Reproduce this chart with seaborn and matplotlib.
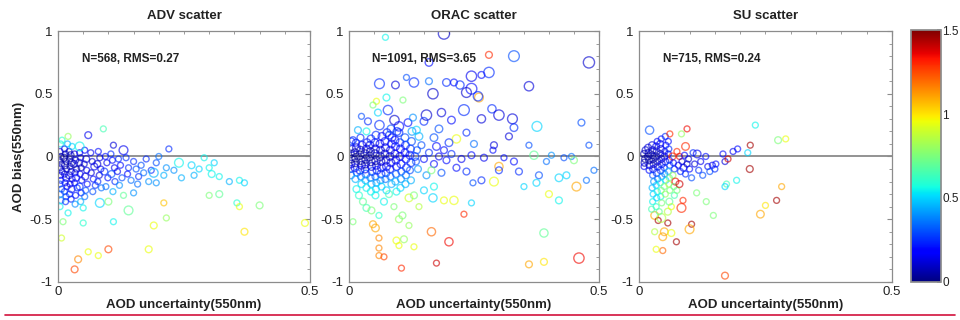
import numpy as np
import pandas as pd
import matplotlib
matplotlib.use("Agg")
import matplotlib.pyplot as plt
import seaborn as sns
from matplotlib.ticker import MultipleLocator
from matplotlib.colors import Normalize
from matplotlib.cm import ScalarMappable
from matplotlib.lines import Line2D

# ---------------- data ----------------
titles = ["ADV scatter", "ORAC scatter", "SU scatter"]
stats_text = ["N=568, RMS=0.27", "N=1091, RMS=3.65", "N=715, RMS=0.24"]
x_label = "AOD uncertainty(550nm)"
y_label = "AOD bias(550nm)"
cbar_ticks = [0, 0.5, 1, 1.5]
cbar_labels = ["0", "0.5", "1", "1.5"]
x_ticks = [0, 0.5]
x_tick_labels = ["0", "0.5"]
y_ticks = [-1, -0.5, 0, 0.5, 1]
y_tick_labels = ["-1", "-0.5", "0", "0.5", "1"]

# rows: (uncertainty, bias, colour value, marker size)
adv_points = [
    (0.004, 0.04, 0.10, 18), (0.006, 0.00, 0.05, 18), (0.003, -0.03, 0.05, 18), (0.007, -0.06, 0.08, 18),
    (0.004, -0.09, 0.12, 18), (0.008, -0.12, 0.10, 18), (0.005, -0.15, 0.18, 18), (0.006, -0.19, 0.22, 18),
    (0.004, -0.22, 0.30, 18), (0.007, -0.26, 0.28, 18), (0.005, -0.30, 0.38, 18), (0.006, -0.35, 0.40, 18),
    (0.004, -0.40, 0.55, 18), (0.005, 0.10, 0.55, 18), (0.008, 0.13, 0.60, 18),
    (0.013, 0.06, 0.15, 18), (0.015, 0.02, 0.05, 18), (0.012, -0.01, 0.06, 24), (0.016, -0.04, 0.04, 18),
    (0.014, -0.07, 0.08, 24), (0.017, -0.10, 0.06, 18), (0.013, -0.14, 0.12, 18), (0.016, -0.17, 0.15, 24),
    (0.014, -0.21, 0.20, 18), (0.018, -0.24, 0.15, 18), (0.013, -0.28, 0.25, 18), (0.016, -0.32, 0.30, 18),
    (0.015, -0.36, 0.25, 18), (0.019, 0.10, 0.45, 18),
    (0.022, 0.04, 0.10, 18), (0.025, 0.01, 0.06, 24), (0.023, -0.02, 0.04, 18), (0.027, -0.05, 0.10, 24),
    (0.024, -0.08, 0.05, 18), (0.026, -0.12, 0.12, 18), (0.022, -0.15, 0.10, 24), (0.028, -0.18, 0.15, 18),
    (0.024, -0.22, 0.12, 18), (0.027, -0.26, 0.20, 24), (0.023, -0.30, 0.25, 18), (0.026, -0.34, 0.22, 18),
    (0.028, 0.08, 0.50, 18),
    (0.033, 0.02, 0.12, 18), (0.035, -0.03, 0.08, 18), (0.032, -0.06, 0.10, 24), (0.037, -0.10, 0.06, 18),
    (0.034, -0.13, 0.14, 18), (0.036, -0.17, 0.20, 24), (0.033, -0.21, 0.16, 18), (0.038, -0.25, 0.25, 18),
    (0.035, -0.31, 0.22, 18), (0.034, -0.38, 0.40, 18),
    (0.043, 0.03, 0.15, 18), (0.045, -0.01, 0.10, 18), (0.042, -0.05, 0.12, 24), (0.046, -0.09, 0.06, 18),
    (0.044, -0.14, 0.15, 18), (0.047, -0.19, 0.20, 18), (0.043, -0.24, 0.25, 24), (0.046, -0.29, 0.22, 18),
    (0.045, -0.36, 0.45, 18),
    (0.053, 0.05, 0.20, 18), (0.056, -0.02, 0.12, 24), (0.052, -0.06, 0.10, 18), (0.057, -0.11, 0.15, 18),
    (0.054, -0.16, 0.12, 24), (0.058, -0.22, 0.20, 18), (0.055, -0.27, 0.30, 18), (0.053, -0.32, 0.35, 18),
    (0.060, 0.17, 0.15, 24), (0.043, 0.08, 0.55, 40),
    (0.065, 0.03, 0.15, 18), (0.068, -0.04, 0.10, 18), (0.072, -0.08, 0.15, 24), (0.066, -0.13, 0.12, 18),
    (0.070, -0.18, 0.20, 18), (0.074, -0.23, 0.25, 18), (0.069, -0.28, 0.30, 18),
    (0.080, 0.04, 0.20, 18), (0.083, -0.01, 0.12, 18), (0.078, -0.06, 0.10, 24), (0.085, -0.10, 0.15, 18),
    (0.082, -0.15, 0.12, 18), (0.079, -0.20, 0.25, 18), (0.086, -0.25, 0.35, 18), (0.083, -0.37, 0.50, 40),
    (0.090, 0.22, 0.65, 18), (0.094, 0.00, 0.20, 18), (0.097, -0.05, 0.15, 18), (0.092, -0.12, 0.25, 24),
    (0.099, -0.17, 0.20, 18), (0.095, -0.24, 0.35, 18), (0.100, -0.36, 0.75, 24),
    (0.105, 0.02, 0.25, 18), (0.110, 0.09, 0.12, 18), (0.108, -0.03, 0.20, 18), (0.112, -0.09, 0.15, 18),
    (0.106, -0.14, 0.30, 24), (0.113, -0.20, 0.25, 18), (0.109, -0.28, 0.45, 18),
    (0.120, -0.02, 0.25, 18), (0.124, -0.07, 0.20, 18), (0.118, -0.12, 0.15, 18), (0.127, -0.17, 0.30, 18),
    (0.122, -0.23, 0.40, 18), (0.130, -0.31, 0.70, 18),
    (0.130, 0.05, 0.15, 40), (0.135, -0.01, 0.25, 18), (0.140, -0.09, 0.25, 18), (0.138, -0.14, 0.20, 18),
    (0.145, -0.19, 0.35, 18), (0.140, -0.43, 0.70, 40),
    (0.150, -0.04, 0.25, 18), (0.155, -0.10, 0.30, 18), (0.160, -0.16, 0.25, 18), (0.158, -0.22, 0.35, 18),
    (0.150, -0.29, 0.40, 18),
    (0.170, -0.13, 0.35, 18), (0.165, -0.07, 0.30, 18), (0.175, -0.02, 0.25, 18), (0.180, -0.20, 0.40, 18),
    (0.185, -0.11, 0.25, 18),
    (0.190, -0.13, 0.45, 40), (0.195, -0.05, 0.30, 18), (0.200, 0.00, 0.35, 18), (0.195, -0.21, 0.40, 18),
    (0.210, -0.15, 0.45, 18), (0.215, -0.09, 0.40, 18), (0.220, 0.06, 0.25, 18), (0.230, -0.11, 0.40, 18),
    (0.240, -0.05, 0.55, 40), (0.245, -0.17, 0.45, 18),
    (0.265, -0.07, 0.50, 24), (0.270, -0.15, 0.45, 18), (0.280, -0.10, 0.50, 18), (0.290, -0.01, 0.55, 18),
    (0.300, -0.09, 0.55, 18), (0.305, -0.14, 0.55, 24), (0.310, -0.05, 0.50, 18), (0.320, -0.16, 0.55, 18),
    (0.340, -0.20, 0.45, 18), (0.360, -0.19, 0.55, 18), (0.370, -0.21, 0.50, 18),
    (0.110, -0.52, 0.55, 18), (0.050, -0.41, 0.55, 18), (0.050, -0.53, 0.60, 18), (0.010, -0.52, 0.75, 18),
    (0.007, -0.65, 0.90, 18), (0.300, -0.31, 0.75, 18), (0.320, -0.30, 0.70, 24), (0.355, -0.37, 0.60, 18),
    (0.400, -0.39, 0.75, 24), (0.360, -0.40, 0.95, 18), (0.370, -0.60, 1.00, 24), (0.490, -0.53, 0.95, 24),
    (0.210, -0.37, 1.05, 18), (0.190, -0.55, 0.95, 24), (0.215, -0.49, 0.80, 18), (0.180, -0.74, 0.95, 24),
    (0.100, -0.74, 1.25, 24), (0.060, -0.76, 0.95, 18), (0.080, -0.79, 0.95, 18), (0.040, -0.82, 1.15, 24),
    (0.033, -0.90, 1.25, 24), (0.020, 0.16, 0.80, 18), (0.020, -0.45, 0.55, 18),
]

orac_points = [
    (0.003, 0.02, 0.05, 30), (0.005, -0.02, 0.03, 30), (0.004, -0.06, 0.10, 30), (0.006, 0.06, 0.15, 24),
    (0.003, -0.10, 0.20, 24), (0.005, 0.12, 0.25, 24), (0.004, -0.15, 0.35, 24),
    (0.012, 0.03, 0.03, 30), (0.014, -0.01, 0.02, 35), (0.013, -0.05, 0.05, 30), (0.015, 0.07, 0.10, 30),
    (0.012, -0.09, 0.15, 30), (0.016, -0.13, 0.30, 24), (0.014, 0.11, 0.20, 24), (0.013, -0.18, 0.45, 24),
    (0.022, 0.01, 0.02, 35), (0.024, -0.03, 0.04, 35), (0.023, 0.05, 0.08, 30), (0.025, -0.07, 0.06, 30),
    (0.022, -0.11, 0.20, 30), (0.026, 0.09, 0.15, 30), (0.024, -0.16, 0.35, 24), (0.023, 0.15, 0.25, 24),
    (0.025, -0.22, 0.50, 24),
    (0.032, 0.02, 0.03, 35), (0.034, -0.02, 0.05, 35), (0.033, -0.06, 0.08, 30), (0.035, 0.06, 0.10, 30),
    (0.032, -0.10, 0.15, 30), (0.036, 0.11, 0.20, 30), (0.034, -0.14, 0.30, 30), (0.033, -0.19, 0.45, 24),
    (0.035, -0.25, 0.55, 24),
    (0.042, 0.00, 0.03, 35), (0.044, -0.04, 0.06, 35), (0.043, 0.04, 0.08, 30), (0.045, -0.08, 0.10, 30),
    (0.042, 0.09, 0.12, 30), (0.046, -0.12, 0.25, 30), (0.044, 0.14, 0.25, 30), (0.043, -0.17, 0.35, 24),
    (0.045, -0.22, 0.45, 24), (0.044, -0.28, 0.55, 24),
    (0.052, 0.02, 0.05, 35), (0.054, -0.03, 0.04, 35), (0.053, 0.06, 0.10, 30), (0.055, -0.07, 0.12, 30),
    (0.052, 0.11, 0.18, 30), (0.056, -0.11, 0.20, 30), (0.054, 0.17, 0.25, 30), (0.053, -0.16, 0.30, 24),
    (0.055, -0.21, 0.40, 24), (0.054, -0.26, 0.50, 24), (0.053, -0.31, 0.55, 24),
    (0.062, 0.00, 0.06, 35), (0.064, -0.04, 0.08, 30), (0.063, 0.05, 0.12, 30), (0.065, -0.09, 0.15, 30),
    (0.062, 0.10, 0.15, 30), (0.066, 0.16, 0.20, 30), (0.064, -0.14, 0.25, 30), (0.063, -0.19, 0.40, 24),
    (0.065, -0.24, 0.50, 24), (0.061, 0.25, 0.25, 45),
    (0.072, 0.02, 0.08, 30), (0.074, -0.03, 0.10, 30), (0.073, 0.07, 0.12, 30), (0.075, -0.08, 0.15, 30),
    (0.072, 0.12, 0.18, 30), (0.076, 0.19, 0.20, 30), (0.074, -0.13, 0.25, 30), (0.073, -0.18, 0.35, 24),
    (0.075, -0.27, 0.50, 24), (0.078, 0.37, 0.25, 45),
    (0.082, 0.00, 0.10, 30), (0.084, -0.05, 0.12, 30), (0.083, 0.05, 0.15, 30), (0.085, 0.10, 0.20, 30),
    (0.082, -0.10, 0.20, 30), (0.086, 0.15, 0.15, 30), (0.084, 0.22, 0.30, 30), (0.083, -0.16, 0.35, 24),
    (0.085, -0.22, 0.45, 24), (0.081, 0.17, 0.25, 30),
    (0.092, 0.02, 0.12, 30), (0.094, -0.03, 0.15, 30), (0.093, 0.08, 0.18, 30), (0.091, 0.29, 0.10, 45),
    (0.095, -0.08, 0.20, 30), (0.092, 0.13, 0.20, 30), (0.096, 0.20, 0.25, 30), (0.094, -0.14, 0.30, 24),
    (0.093, -0.20, 0.45, 24), (0.095, -0.28, 0.55, 24),
    (0.100, 0.24, 0.20, 45), (0.100, 0.19, 0.25, 30), (0.102, 0.00, 0.15, 30), (0.104, -0.06, 0.20, 30),
    (0.103, 0.06, 0.18, 30), (0.105, -0.12, 0.30, 24), (0.102, 0.11, 0.25, 30), (0.104, -0.18, 0.40, 24),
    (0.103, -0.25, 0.50, 24),
    (0.112, 0.03, 0.18, 30), (0.114, -0.02, 0.20, 30), (0.113, 0.09, 0.22, 30), (0.115, -0.09, 0.25, 30),
    (0.118, 0.27, 0.20, 30), (0.112, 0.15, 0.30, 30), (0.114, -0.15, 0.35, 24), (0.113, -0.22, 0.45, 24),
    (0.115, 0.63, 0.30, 18),
    (0.122, 0.01, 0.20, 30), (0.124, -0.05, 0.25, 30), (0.123, 0.06, 0.25, 30), (0.125, 0.12, 0.30, 30),
    (0.122, -0.11, 0.30, 24), (0.126, 0.20, 0.40, 30), (0.124, -0.19, 0.45, 24), (0.128, 0.31, 0.40, 24),
    (0.135, 0.21, 0.50, 30), (0.140, 0.16, 0.45, 30), (0.132, 0.00, 0.25, 30), (0.134, -0.04, 0.30, 24),
    (0.136, 0.05, 0.30, 24), (0.138, -0.10, 0.40, 24),
    (0.145, 0.09, 0.30, 24), (0.155, -0.15, 0.40, 24), (0.175, 0.08, 0.20, 30), (0.185, -0.13, 0.30, 24),
    (0.008, 0.13, 0.25, 24), (0.025, 0.32, 0.30, 18), (0.038, 0.28, 0.25, 24), (0.058, 0.35, 0.50, 24),
    (0.055, 0.44, 0.95, 18), (0.048, 0.41, 0.75, 18), (0.108, 0.45, 0.75, 18), (0.075, 0.47, 0.55, 24),
    (0.035, 0.20, 0.55, 24), (0.018, 0.21, 0.45, 24),
    (0.190, 0.98, 0.10, 65), (0.073, 0.95, 0.55, 18), (0.330, 0.80, 0.30, 60), (0.480, 0.75, 0.10, 65),
    (0.280, 0.81, 1.30, 24), (0.160, 0.75, 0.20, 30), (0.280, 0.67, 0.25, 55), (0.265, 0.65, 0.20, 24),
    (0.245, 0.64, 0.15, 55), (0.195, 0.59, 0.25, 30),
    (0.210, 0.59, 0.20, 24), (0.222, 0.57, 0.25, 35), (0.245, 0.54, 0.20, 60), (0.235, 0.51, 0.10, 50),
    (0.168, 0.50, 0.10, 55), (0.260, 0.47, 1.10, 40), (0.258, 0.48, 0.25, 45), (0.360, 0.56, 0.12, 45),
    (0.130, 0.59, 0.25, 45), (0.093, 0.57, 0.12, 30), (0.061, 0.58, 0.25, 50),
    (0.160, 0.60, 0.35, 24), (0.230, 0.37, 0.25, 60), (0.185, 0.35, 0.12, 35), (0.205, 0.29, 0.20, 30),
    (0.155, 0.33, 0.10, 55), (0.265, 0.30, 0.12, 35), (0.286, 0.38, 0.25, 35), (0.300, 0.33, 0.12, 55),
    (0.327, 0.30, 0.12, 50), (0.330, 0.23, 0.25, 30),
    (0.320, 0.16, 0.12, 24), (0.376, 0.24, 0.50, 50), (0.465, 0.27, 0.30, 24), (0.480, 0.09, 0.30, 18),
    (0.215, 0.14, 0.95, 35), (0.235, 0.19, 0.25, 24), (0.180, 0.22, 0.30, 30), (0.200, 0.11, 0.25, 30),
    (0.150, 0.28, 0.25, 30), (0.170, 0.15, 0.30, 30), (0.250, 0.10, 0.35, 24), (0.190, 0.05, 0.20, 24),
    (0.150, -0.02, 0.20, 24), (0.160, 0.03, 0.25, 24), (0.170, -0.06, 0.20, 24), (0.180, 0.00, 0.15, 24),
    (0.195, -0.03, 0.20, 24), (0.205, 0.02, 0.25, 24), (0.215, -0.09, 0.20, 24), (0.225, -0.02, 0.15, 24),
    (0.235, -0.12, 0.25, 24), (0.245, 0.01, 0.20, 24),
    (0.248, -0.21, 0.30, 18), (0.265, -0.19, 0.25, 24), (0.270, -0.01, 0.15, 24), (0.288, 0.05, 0.20, 18),
    (0.290, 0.09, 0.12, 24), (0.300, -0.08, 1.10, 35), (0.300, -0.11, 0.25, 24), (0.310, -0.01, 0.20, 18),
    (0.330, -0.04, 0.20, 24), (0.340, -0.12, 0.25, 24),
    (0.360, 0.09, 0.30, 18), (0.370, 0.01, 0.70, 35), (0.380, -0.15, 0.30, 24), (0.375, -0.21, 0.50, 24),
    (0.350, -0.24, 0.50, 18), (0.395, -0.04, 0.35, 18), (0.430, -0.01, 0.30, 18), (0.435, -0.15, 0.50, 24),
    (0.405, 0.01, 0.40, 18), (0.445, 0.00, 0.35, 18),
    (0.450, -0.03, 0.75, 24), (0.490, -0.11, 0.35, 18), (0.455, -0.24, 1.10, 40), (0.475, -0.19, 0.35, 18),
    (0.420, -0.17, 0.50, 30), (0.400, -0.30, 0.95, 24), (0.420, -0.35, 0.55, 24), (0.390, -0.61, 0.70, 35),
    (0.460, -0.81, 1.35, 55), (0.390, -0.84, 1.00, 24),
    (0.360, -0.86, 1.10, 24), (0.175, -0.85, 1.40, 18), (0.105, -0.89, 1.30, 18), (0.200, -0.68, 1.35, 35),
    (0.165, -0.60, 1.20, 35), (0.230, -0.46, 1.30, 18), (0.130, -0.72, 0.95, 18), (0.100, -0.71, 0.95, 18),
    (0.060, -0.79, 1.15, 18), (0.070, -0.80, 1.25, 18),
    (0.060, -0.73, 1.15, 18), (0.060, -0.65, 1.15, 18), (0.053, -0.57, 1.10, 30), (0.048, -0.54, 1.10, 24),
    (0.100, -0.50, 0.80, 24), (0.095, -0.67, 0.95, 24), (0.110, -0.66, 0.80, 24), (0.008, -0.52, 0.75, 18),
    (0.035, -0.41, 0.65, 24), (0.045, -0.43, 0.75, 24),
    (0.028, -0.36, 0.70, 24), (0.120, -0.33, 0.90, 30), (0.130, -0.31, 0.75, 24), (0.107, -0.47, 0.75, 24),
    (0.168, -0.33, 0.50, 35), (0.190, -0.35, 0.95, 24), (0.210, -0.35, 0.95, 35), (0.245, -0.37, 0.50, 18),
    (0.170, -0.24, 0.55, 24), (0.165, -0.11, 0.75, 24),
    (0.290, -0.20, 0.95, 40), (0.080, -0.30, 0.65, 24), (0.070, -0.36, 0.55, 24), (0.090, -0.40, 0.75, 18),
    (0.140, -0.40, 0.85, 18), (0.150, -0.27, 0.50, 24), (0.015, -0.26, 0.55, 24), (0.020, -0.31, 0.60, 24),
    (0.060, -0.47, 0.60, 18), (0.120, -0.55, 0.80, 18),
]

su_points = [
    (0.010, 0.02, 0.05, 24), (0.012, -0.02, 0.03, 24), (0.011, -0.05, 0.08, 24), (0.013, 0.05, 0.10, 24),
    (0.010, -0.08, 0.15, 18),
    (0.018, 0.00, 0.03, 24), (0.020, -0.03, 0.05, 24), (0.019, 0.03, 0.06, 24), (0.021, -0.07, 0.08, 24),
    (0.018, 0.07, 0.12, 24), (0.020, -0.11, 0.20, 18), (0.021, 0.21, 0.30, 35),
    (0.026, 0.01, 0.03, 24), (0.028, -0.02, 0.05, 24), (0.027, 0.05, 0.08, 24), (0.029, -0.06, 0.08, 24),
    (0.026, 0.09, 0.12, 24), (0.028, -0.10, 0.15, 24), (0.027, -0.15, 0.30, 18), (0.029, -0.20, 0.40, 18),
    (0.026, -0.25, 0.45, 18), (0.028, -0.30, 0.50, 18), (0.027, -0.36, 0.55, 18),
    (0.034, 0.00, 0.05, 24), (0.036, -0.04, 0.06, 24), (0.035, 0.04, 0.08, 24), (0.037, -0.08, 0.12, 24),
    (0.034, 0.08, 0.15, 24), (0.036, 0.12, 0.20, 18), (0.035, -0.13, 0.25, 24), (0.037, -0.18, 0.35, 18),
    (0.034, -0.23, 0.50, 18), (0.036, -0.28, 0.55, 18), (0.035, -0.33, 0.50, 18), (0.034, -0.40, 0.60, 18),
    (0.042, 0.02, 0.06, 24), (0.044, -0.02, 0.08, 24), (0.043, 0.06, 0.12, 24), (0.045, -0.06, 0.15, 24),
    (0.042, 0.10, 0.15, 24), (0.044, 0.14, 0.20, 18), (0.043, -0.11, 0.25, 24), (0.045, -0.16, 0.40, 18),
    (0.042, -0.21, 0.55, 18), (0.044, -0.27, 0.70, 18), (0.043, -0.32, 0.55, 18), (0.045, -0.37, 0.75, 18),
    (0.050, 0.00, 0.12, 24), (0.052, -0.04, 0.15, 24), (0.051, 0.04, 0.15, 18), (0.053, 0.09, 0.20, 18),
    (0.050, -0.09, 0.25, 18), (0.052, 0.16, 0.25, 18), (0.051, -0.14, 0.35, 18), (0.053, -0.19, 0.50, 18),
    (0.050, -0.24, 0.75, 18), (0.052, -0.30, 0.80, 18),
    (0.058, 0.02, 0.15, 18), (0.060, -0.03, 0.20, 18), (0.059, 0.06, 0.25, 18), (0.061, -0.07, 0.30, 18),
    (0.058, -0.12, 0.45, 18), (0.060, -0.17, 0.70, 18), (0.059, -0.22, 0.85, 18), (0.061, -0.27, 0.75, 18),
    (0.058, 0.12, 0.20, 18),
    (0.066, 0.00, 1.30, 24), (0.068, -0.05, 0.20, 18), (0.070, -0.10, 0.25, 18), (0.067, -0.15, 0.80, 18),
    (0.072, -0.20, 1.35, 24), (0.069, -0.24, 0.70, 18), (0.075, 0.04, 1.30, 18), (0.080, 0.00, 1.35, 18),
    (0.078, -0.07, 0.15, 18), (0.082, -0.12, 0.25, 18),
    (0.085, -0.04, 0.12, 18), (0.088, -0.09, 0.15, 24), (0.090, 0.01, 0.20, 18), (0.092, -0.14, 0.25, 18),
    (0.095, -0.06, 0.08, 18), (0.098, -0.02, 0.12, 18), (0.100, -0.10, 0.20, 18), (0.104, -0.17, 0.30, 18),
    (0.107, 0.03, 0.25, 18), (0.110, -0.06, 0.12, 18),
    (0.115, 0.02, 0.15, 30), (0.118, -0.11, 0.25, 18), (0.122, -0.04, 0.15, 18), (0.126, -0.15, 0.30, 18),
    (0.132, 0.00, 0.20, 18), (0.136, -0.08, 0.15, 18), (0.140, -0.12, 0.30, 18), (0.145, -0.07, 0.15, 18),
    (0.150, -0.10, 0.25, 18), (0.152, -0.06, 0.20, 18),
    (0.166, 0.02, 0.20, 18), (0.170, -0.04, 0.12, 18), (0.176, -0.02, 1.40, 18), (0.186, 0.04, 0.15, 18),
    (0.195, 0.06, 0.20, 18), (0.215, 0.03, 0.50, 18), (0.220, 0.09, 1.45, 18), (0.230, 0.25, 0.55, 18),
    (0.275, 0.13, 0.75, 24), (0.290, 0.14, 0.95, 18),
    (0.219, -0.10, 1.45, 24), (0.173, -0.22, 0.65, 18), (0.193, -0.19, 0.55, 18), (0.170, -0.24, 0.50, 18),
    (0.282, -0.24, 1.10, 18), (0.250, -0.39, 1.00, 18), (0.240, -0.46, 1.10, 30), (0.272, -0.35, 1.45, 18),
    (0.170, -0.95, 1.25, 24), (0.114, -0.29, 0.75, 18),
    (0.061, 0.18, 1.30, 18), (0.095, 0.22, 1.35, 18), (0.084, 0.18, 0.80, 18), (0.092, 0.08, 1.30, 30),
    (0.104, -0.54, 1.45, 18), (0.100, -0.58, 1.10, 40), (0.084, -0.41, 1.30, 40), (0.057, -0.53, 1.45, 18),
    (0.074, -0.68, 1.45, 18), (0.050, -0.60, 1.10, 30), (0.047, -0.64, 1.10, 30), (0.064, -0.61, 0.95, 24),
    (0.047, -0.75, 1.20, 18), (0.034, -0.74, 0.95, 18),
    (0.031, -0.47, 1.10, 30), (0.038, -0.51, 1.45, 18), (0.044, -0.49, 0.85, 40), (0.031, -0.60, 0.85, 18),
    (0.057, -0.44, 0.85, 24), (0.064, -0.40, 0.95, 18), (0.147, -0.47, 0.75, 18), (0.133, -0.36, 0.75, 18),
    (0.087, -0.35, 1.30, 18), (0.070, -0.31, 0.65, 18),
    (0.060, -0.36, 0.70, 24), (0.075, -0.27, 0.75, 18), (0.040, -0.44, 0.70, 18), (0.025, -0.42, 0.65, 18),
    (0.080, -0.22, 1.40, 24),
]

panels_data = [adv_points, orac_points, su_points]

# ---------------- styling / layout ----------------
sns.set_theme(style="white")
plt.rcParams["font.family"] = ["Liberation Sans", "DejaVu Sans"]
plt.rcParams["axes.unicode_minus"] = False

frame_col = "#8c8c8c"
text_col = "#222222"
jet = matplotlib.colormaps["jet"]

fig = plt.figure(figsize=(9.6, 3.2), dpi=100)
positions = [
    [0.0604, 0.119, 0.2625, 0.784],
    [0.3635, 0.119, 0.2604, 0.784],
    [0.6656, 0.119, 0.2635, 0.784],
]
norm = Normalize(0, 1.5)

for i, (pos, rows) in enumerate(zip(positions, panels_data)):
    ax = fig.add_axes(pos)
    unc, bias, aod, size = map(list, zip(*rows))
    df = pd.DataFrame({"unc": unc, "bias": bias, "aod": aod, "size": size})
    ax.axhline(0, color="#8a8a8a", lw=1.3, zorder=0.5)
    sns.scatterplot(data=df, x="unc", y="bias", hue="aod", hue_norm=norm,
                    palette=jet, size="size", sizes=(12, 70), size_norm=(12, 70),
                    legend=False, ax=ax, linewidth=1.0, alpha=0.62, marker="o")
    coll = ax.collections[-1]
    fc = coll.get_facecolors()
    coll.set_edgecolors(fc)
    coll.set_facecolors("none")

    ax.set_xlim(0, 0.5)
    ax.set_ylim(-1, 1)
    ax.set_xticks(x_ticks)
    ax.set_xticklabels(x_tick_labels)
    ax.set_yticks(y_ticks)
    ax.set_yticklabels(y_tick_labels)
    ax.xaxis.set_minor_locator(MultipleLocator(0.05))
    ax.yaxis.set_minor_locator(MultipleLocator(0.1))
    ax.tick_params(which="both", direction="in", top=True, right=True,
                   color=frame_col, labelcolor=text_col, labelsize=9.5)
    ax.tick_params(which="major", length=3.5, width=0.8)
    ax.tick_params(which="minor", length=2, width=0.6)
    ax.tick_params(axis="x", pad=3)
    ax.tick_params(axis="y", pad=4)
    for sp in ax.spines.values():
        sp.set_color(frame_col)
        sp.set_linewidth(0.9)

    ax.set_title(titles[i], fontsize=9.5, fontweight="bold", color=text_col, pad=9)
    ax.set_xlabel(x_label, fontsize=9.5, fontweight="bold", color=text_col, labelpad=1)
    if i == 0:
        ax.set_ylabel(y_label, fontsize=9.5, fontweight="bold", color=text_col, labelpad=3)
    else:
        ax.set_ylabel("")
    ax.text(0.047, 0.78, stats_text[i], fontsize=8.5, fontweight="bold",
            color=text_col, va="center", ha="left")

cax = fig.add_axes([0.949, 0.119, 0.031, 0.787])
sm = ScalarMappable(norm=norm, cmap=jet)
cb = fig.colorbar(sm, cax=cax)
cb.set_ticks(cbar_ticks)
cb.set_ticklabels(cbar_labels)
cax.tick_params(direction="in", length=3, color=frame_col, labelcolor=text_col,
                labelsize=8.5, pad=1)
cb.outline.set_edgecolor(frame_col)

fig.add_artist(Line2D([0.005, 0.995], [0.016, 0.016], color="#d2123c", lw=1.2,
                      transform=fig.transFigure))

fig.savefig("out.png", dpi=100)
